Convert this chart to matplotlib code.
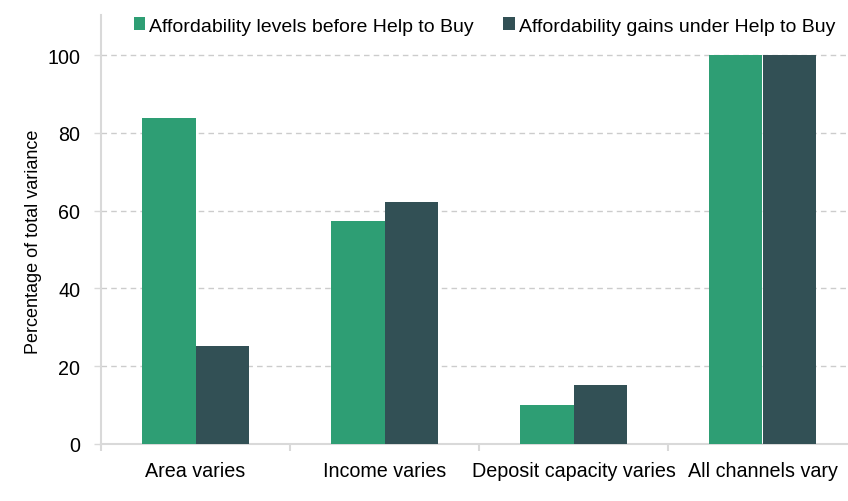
import numpy as np
import matplotlib
matplotlib.use("Agg")
import matplotlib.pyplot as plt

plt.rcParams['font.family'] = ['Liberation Sans', 'DejaVu Sans']

categories = ['Area varies', 'Income varies', 'Deposit capacity varies', 'All channels vary']
levels_before = [83.7, 57.3, 10.0, 100.0]
gains_under = [25.2, 62.2, 15.2, 100.0]
series_names = ['Affordability levels before Help to Buy', 'Affordability gains under Help to Buy']

green = '#2e9e74'
dark = '#325055'
grey = '#d9d9d9'

fig = plt.figure(figsize=(8.48, 5.02), dpi=100)
ax = fig.add_axes([101 / 848, 57 / 502, 756 / 848, 429 / 502])

x = np.arange(len(categories))
w = 0.283
ax.bar(x - w / 2, levels_before, w, color=green, label=series_names[0], zorder=3)
ax.bar(x + w / 2, gains_under, w, color=dark, label=series_names[1], zorder=3)

ax.set_xlim(-0.5, len(categories) - 0.5)
ax.set_ylim(0, 110.3)
ax.set_yticks([0, 20, 40, 60, 80, 100])
ax.yaxis.grid(True, linestyle=(0, (4, 3)), color='#cccccc', linewidth=1, zorder=0)

ax.set_xticks(x)
ax.set_xticklabels(categories, fontsize=14.2)
ax.set_xticks(np.arange(len(categories) + 1) - 0.5, minor=True)
ax.tick_params(axis='x', which='major', length=0, pad=12)
ax.tick_params(axis='x', which='minor', length=5, color=grey, width=1.5)
ax.tick_params(axis='y', length=5, color=grey, width=1, labelsize=14.2, pad=10)

for s in ['top', 'right']:
    ax.spines[s].set_visible(False)
for s in ['left', 'bottom']:
    ax.spines[s].set_color(grey)
    ax.spines[s].set_linewidth(1.5)

ax.set_ylabel('Percentage of total variance', fontsize=13)
ax.yaxis.set_label_coords(-0.078, 0.473)

ax.legend(loc='upper left', bbox_to_anchor=(0.02, 1.035), ncol=2, frameon=False,
          fontsize=14, handlelength=0.6, handleheight=0.6, handletextpad=0.2,
          columnspacing=1.5)

fig.savefig('out.png', dpi=100)
